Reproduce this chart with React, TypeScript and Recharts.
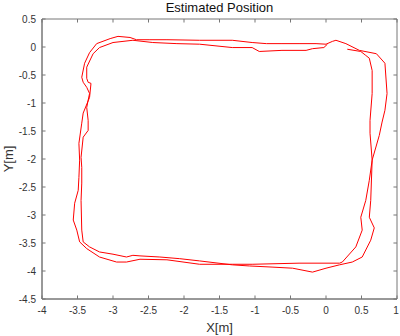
import React from "react";
import { Line, LineChart, ReferenceArea, ReferenceLine, XAxis, YAxis } from "recharts";

// axis ticks
const xTicks = [-4, -3.5, -3, -2.5, -2, -1.5, -1, -0.5, 0, 0.5, 1];
const yTicks = [-4.5, -4, -3.5, -3, -2.5, -2, -1.5, -1, -0.5, 0, 0.5];

// estimated path, [x, y] in metres, in driving order
const startLeg = [[0.30, -0.04], [0.49, -0.08], [0.56, -0.15]];
const rightA = [[0.61, -0.20], [0.65, -0.42], [0.65, -0.83], [0.62, -1.31], [0.62, -1.54], [0.65, -2.02], [0.63, -2.74], [0.61, -3.04], [0.68, -3.23], [0.63, -3.45], [0.51, -3.75], [0.37, -3.84]];
const bottomA = [[0.19, -3.89], [0.00, -3.95], [-0.19, -4.02], [-0.47, -3.95], [-0.76, -3.93], [-1.08, -3.91], [-1.32, -3.89], [-1.78, -3.82], [-2.06, -3.78], [-2.34, -3.75], [-2.62, -3.73], [-2.72, -3.72], [-2.81, -3.75], [-3.00, -3.70], [-3.19, -3.66], [-3.33, -3.57], [-3.42, -3.48]];
const leftA = [[-3.44, -3.27], [-3.45, -2.74], [-3.44, -2.43], [-3.44, -2.15], [-3.45, -1.97], [-3.42, -1.61], [-3.35, -1.49], [-3.35, -1.31], [-3.37, -1.08], [-3.35, -0.95]];
const topA = [[-3.33, -0.83], [-3.37, -0.72], [-3.42, -0.63], [-3.44, -0.54], [-3.40, -0.29], [-3.33, -0.10], [-3.23, 0.06], [-3.04, 0.15], [-2.93, 0.19], [-2.76, 0.17], [-2.67, 0.13], [-2.48, 0.13], [-2.24, 0.13], [-1.78, 0.12], [-1.32, 0.12], [-1.04, 0.08], [-0.84, 0.06], [-0.62, 0.06], [-0.38, 0.06], [-0.14, 0.06], [0.00, 0.05], [0.09, 0.10], [0.14, 0.12], [0.28, 0.06], [0.47, -0.06]];
const rightB = [[0.71, -0.12], [0.83, -0.29], [0.86, -0.83], [0.83, -1.13], [0.79, -1.34], [0.75, -1.58], [0.65, -2.02], [0.61, -2.38], [0.56, -2.74], [0.49, -3.04], [0.51, -3.27], [0.42, -3.57], [0.23, -3.84]];
const bottomB = [[0.19, -3.86], [-0.38, -3.86], [-1.04, -3.88], [-1.32, -3.88], [-1.78, -3.88], [-2.24, -3.80], [-2.62, -3.79], [-2.81, -3.84], [-2.95, -3.84], [-3.19, -3.75], [-3.37, -3.60], [-3.47, -3.48]];
const leftB = [[-3.51, -3.27], [-3.56, -3.09], [-3.54, -2.79], [-3.49, -2.56], [-3.48, -2.33], [-3.47, -2.02], [-3.48, -1.72], [-3.44, -1.36], [-3.42, -1.18]];
const topB = [[-3.33, -0.90], [-3.31, -0.65], [-3.35, -0.63], [-3.37, -0.56], [-3.37, -0.36], [-3.28, -0.12], [-3.19, -0.01], [-3.00, 0.08], [-2.72, 0.12], [-2.44, 0.08], [-2.10, 0.06], [-1.78, 0.05], [-1.32, -0.01], [-1.04, -0.01], [-0.94, -0.08], [-0.62, -0.06], [-0.28, -0.06], [-0.19, -0.03], [-0.03, -0.01], [0.02, 0.05]];

const path = [startLeg, rightA, bottomA, leftA, topA, rightB, bottomB, leftB, topB]
  .flat()
  .map(([x, y]) => ({ x, y }));

const X_MIN = -4, X_MAX = 1, Y_MIN = -4.5, Y_MAX = 0.5;
// inward tick length in data units (~3.5px)
const TICK_DX = 0.05;
const TICK_DY = 0.063;

const FONT = "'Liberation Sans', Arial, sans-serif";
const AXIS = "#777";
const TEXT = "#333";

const BottomTick = (props: any) => (
  <text x={props.x} y={props.y + 15} textAnchor="middle" fontSize={10} fill={TEXT} fontFamily={FONT}>
    {props.payload.value}
  </text>
);

const LeftTick = (props: any) => (
  <text x={props.x - 6} y={props.y + 3.5} textAnchor="end" fontSize={10} fill={TEXT} fontFamily={FONT}>
    {props.payload.value}
  </text>
);

const App = () => {
  return (
    <div style={{ position: "absolute", left: 0, top: 0, width: 400, height: 336 }}>
      <div
        style={{
          position: "absolute",
          left: 42,
          width: 355,
          top: 0,
          textAlign: "center",
          fontFamily: FONT,
          fontSize: 13,
          lineHeight: "15px",
          color: "#111",
        }}
      >
        Estimated Position
      </div>
      <LineChart
        width={400}
        height={336}
        data={path}
        margin={{ top: 19, right: 3, bottom: 0, left: 0 }}
      >
        <XAxis
          dataKey="x"
          type="number"
          domain={[X_MIN, X_MAX]}
          ticks={xTicks}
          height={37}
          stroke={AXIS}
          tickLine={false}
          tickSize={0}
          tickMargin={0}
          tick={BottomTick}
          label={{ value: "X[m]", position: "insideBottom", offset: 4, fontSize: 13, fill: TEXT, fontFamily: FONT }}
        />
        <YAxis
          dataKey="y"
          type="number"
          domain={[Y_MIN, Y_MAX]}
          ticks={yTicks}
          width={42}
          stroke={AXIS}
          tickLine={false}
          tickSize={0}
          tickMargin={0}
          tick={LeftTick}
          label={{ value: "Y[m]", angle: -90, position: "insideLeft", offset: 8, fontSize: 13, fill: TEXT, fontFamily: FONT, style: { textAnchor: "middle" } }}
        />
        <ReferenceArea
          x1={X_MIN}
          x2={X_MAX}
          y1={Y_MIN}
          y2={Y_MAX}
          fill="none"
          fillOpacity={0}
          stroke={AXIS}
          strokeWidth={1}
          ifOverflow="visible"
        />
        {xTicks.map((t) => (
          <ReferenceLine
            key={`b${t}`}
            segment={[{ x: t, y: Y_MIN }, { x: t, y: Y_MIN + TICK_DY }]}
            stroke={AXIS}
            ifOverflow="visible"
          />
        ))}
        {xTicks.map((t) => (
          <ReferenceLine
            key={`t${t}`}
            segment={[{ x: t, y: Y_MAX }, { x: t, y: Y_MAX - TICK_DY }]}
            stroke={AXIS}
            ifOverflow="visible"
          />
        ))}
        {yTicks.map((t) => (
          <ReferenceLine
            key={`l${t}`}
            segment={[{ x: X_MIN, y: t }, { x: X_MIN + TICK_DX, y: t }]}
            stroke={AXIS}
            ifOverflow="visible"
          />
        ))}
        {yTicks.map((t) => (
          <ReferenceLine
            key={`r${t}`}
            segment={[{ x: X_MAX, y: t }, { x: X_MAX - TICK_DX, y: t }]}
            stroke={AXIS}
            ifOverflow="visible"
          />
        ))}
        <Line
          type="linear"
          dataKey="y"
          stroke="#ff0000"
          strokeWidth={1}
          dot={false}
          activeDot={false}
          isAnimationActive={false}
        />
      </LineChart>
    </div>
  );
};

export default App;
